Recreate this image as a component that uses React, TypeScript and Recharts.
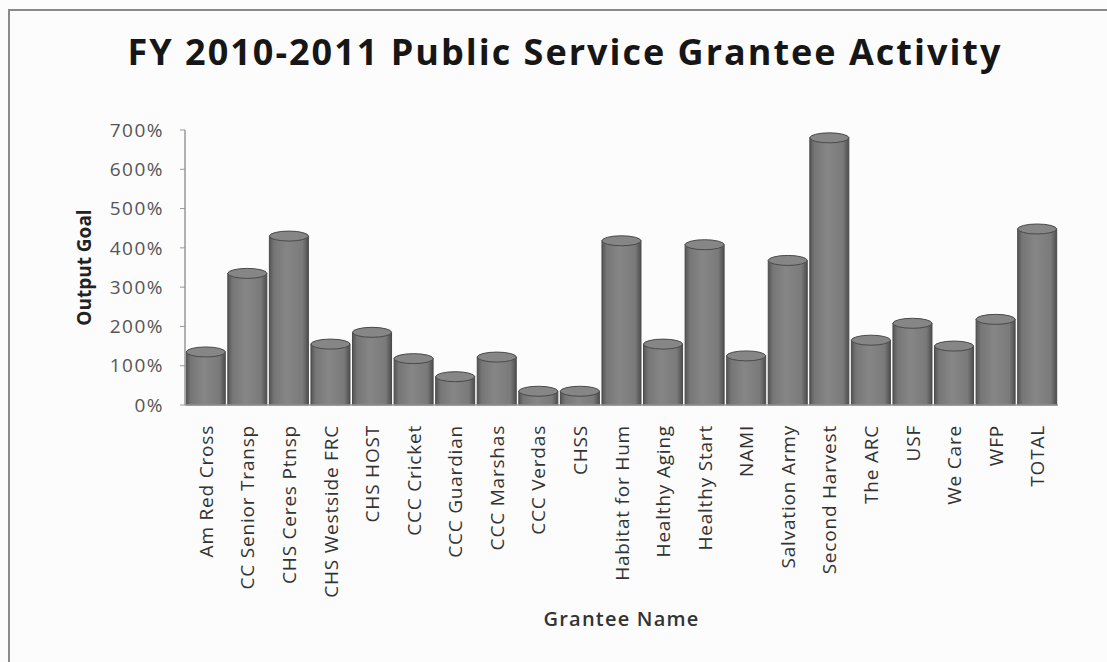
import { BarChart, Bar, XAxis, YAxis } from "recharts"

const grantees = [
  "Am Red Cross", "CC Senior Transp", "CHS Ceres Ptnsp", "CHS Westside FRC", "CHS HOST",
  "CCC  Cricket", "CCC Guardian", "CCC Marshas", "CCC Verdas", "CHSS",
  "Habitat for Hum", "Healthy Aging", "Healthy Start", "NAMI", "Salvation Army",
  "Second Harvest", "The ARC", "USF", "We Care", "WFP", "TOTAL",
]
const outputGoal = [
  135, 335, 430, 155, 185, 118, 72, 122, 35, 35,
  418, 155, 408, 125, 368, 680, 165, 208, 150, 218, 448,
]
const yTicks = [0, 100, 200, 300, 400, 500, 600, 700]

const data = grantees.map((name, i) => ({ name, goal: outputGoal[i] }))

const font = "'Open Sans', 'Noto Sans', sans-serif"

function Cylinder(props: any) {
  const { x, y, width, height } = props
  if (!height || height <= 0) return null
  const ry = Math.min(5, height / 2)
  const cx = x + width / 2
  return (
    <g>
      <rect x={x} y={y} width={width} height={height} fill="url(#cylBody)" stroke="#4a4a4a" strokeWidth={1} />
      <ellipse cx={cx} cy={y} rx={width / 2} ry={ry} fill="#868686" stroke="#4a4a4a" strokeWidth={1} />
    </g>
  )
}

function XTick(props: any) {
  const { x, y, payload } = props
  return (
    <text
      x={x}
      y={y}
      transform={`rotate(-90, ${x}, ${y})`}
      textAnchor="end"
      dominantBaseline="central"
      fill="#333"
      fontSize={19}
      letterSpacing={0.8}
      fontFamily={font}
    >
      {payload.value}
    </text>
  )
}

export default function App() {
  return (
    <div style={{ position: "absolute", left: 0, top: 0, width: 1107, height: 662, background: "#fcfcfc", overflow: "hidden" }}>
      <div
        style={{
          position: "absolute", left: 8, top: 9, width: 1120, height: 680,
          borderLeft: "2px solid #8a8a8a", borderTop: "2px solid #8a8a8a",
        }}
      />
      <div
        style={{
          position: "absolute", left: 0, top: 27, width: 1130, textAlign: "center",
          fontFamily: font, fontWeight: 700, fontSize: 36, letterSpacing: 2, color: "#161616",
        }}
      >
        FY 2010-2011 Public Service Grantee Activity
      </div>
      <BarChart
        width={1107}
        height={662}
        data={data}
        margin={{ top: 130, right: 49, bottom: 0, left: 0 }}
        barCategoryGap="3%"
        style={{ position: "absolute", left: 0, top: 0 }}
      >
        <defs>
          <linearGradient id="cylBody" x1="0" y1="0" x2="1" y2="0">
            <stop offset="0%" stopColor="#555" />
            <stop offset="12%" stopColor="#767676" />
            <stop offset="45%" stopColor="#868686" />
            <stop offset="85%" stopColor="#7a7a7a" />
            <stop offset="100%" stopColor="#4e4e4e" />
          </linearGradient>
        </defs>
        <XAxis
          dataKey="name"
          interval={0}
          height={257}
          tick={<XTick />}
          tickLine={false}
          tickMargin={14}
          axisLine={{ stroke: "#999", strokeWidth: 1.5 }}
          label={{ value: "Grantee Name", position: "insideBottom", offset: 36, fill: "#333", fontSize: 20, fontWeight: 600, letterSpacing: 1.2, fontFamily: font }}
        />
        <YAxis
          width={185}
          domain={[0, 700]}
          ticks={yTicks}
          interval={0}
          tickFormatter={(v: number) => `${v}%`}
          tick={{ fill: "#555", fontSize: 19, letterSpacing: 1.5, fontFamily: font }}
          tickSize={5}
          tickMargin={16}
          tickLine={{ stroke: "#999" }}
          axisLine={{ stroke: "#999", strokeWidth: 1.5 }}
          label={{ value: "Output Goal", angle: -90, position: "center", dx: -8, fill: "#222", fontSize: 19, fontWeight: 700, fontFamily: font }}
        />
        <Bar dataKey="goal" shape={<Cylinder />} isAnimationActive={false} />
      </BarChart>
    </div>
  )
}
